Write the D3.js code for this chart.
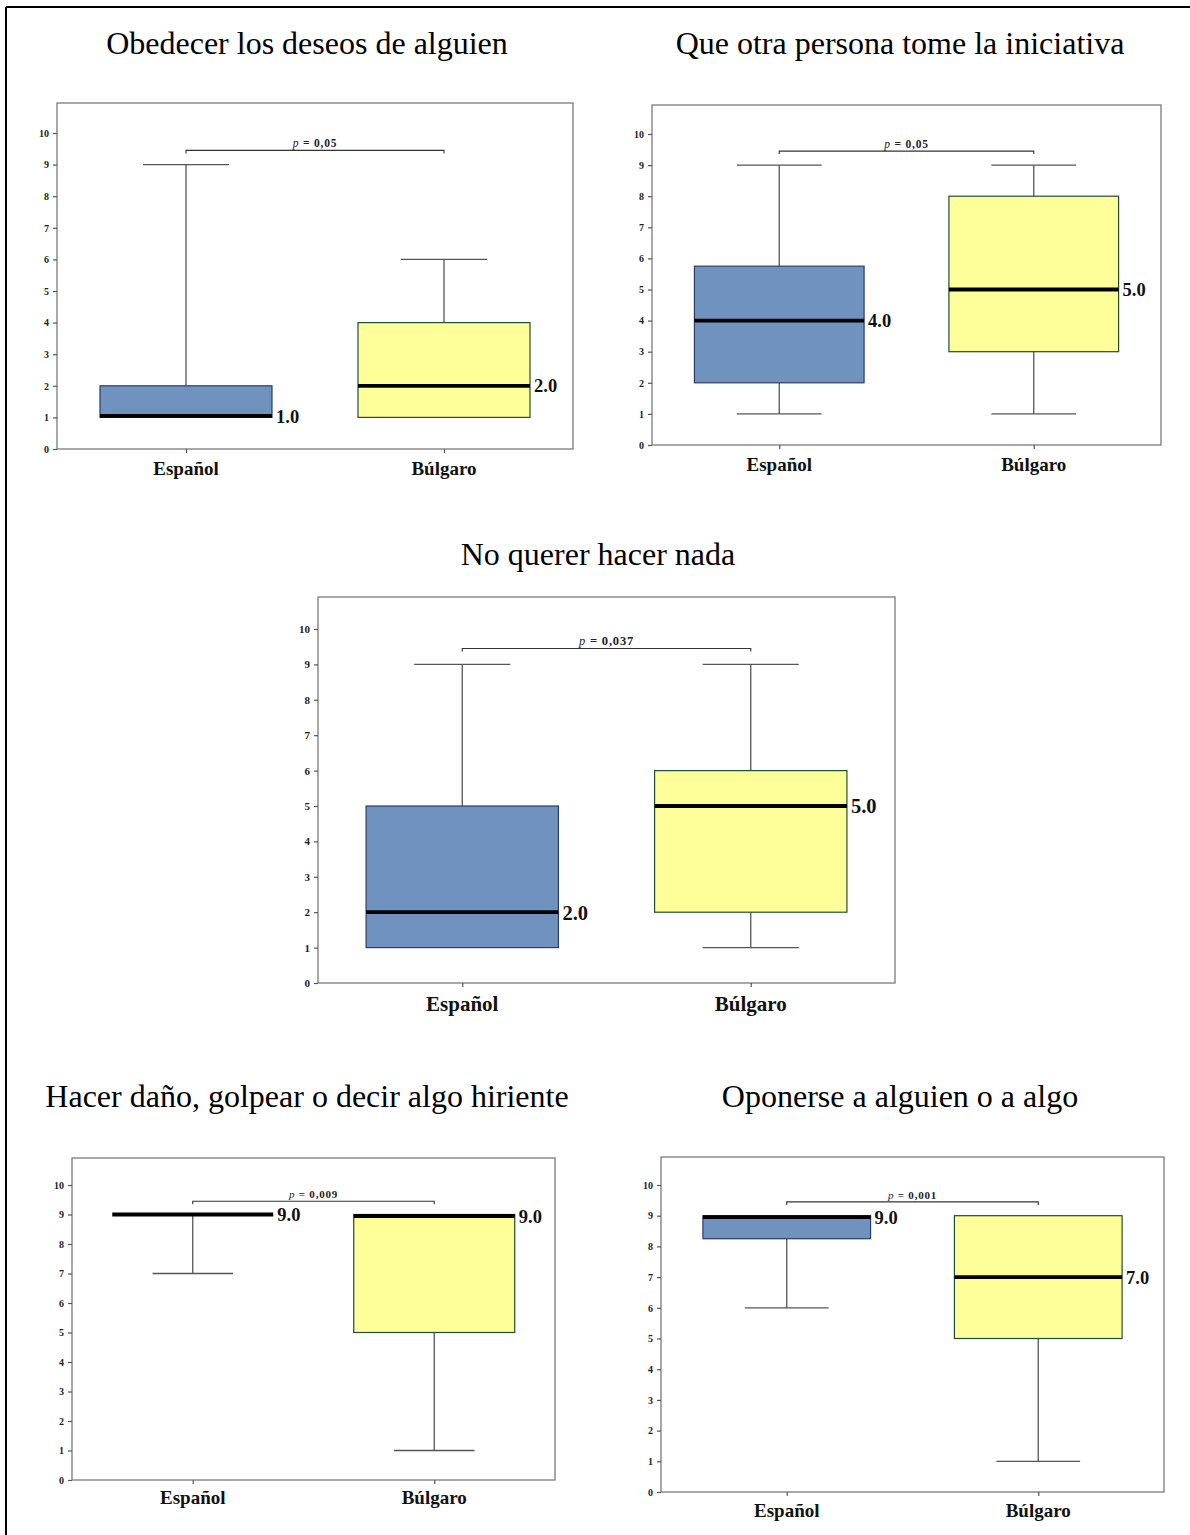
<!DOCTYPE html>
<html>
<head>
<meta charset="utf-8">
<script src="https://cdn.jsdelivr.net/npm/d3@7"></script>
<style>
  html, body { margin: 0; padding: 0; background: #fff; }
  svg { display: block; }
</style>
</head>
<body>
<svg id="chart" width="1190" height="1535"></svg>
<script>
// ---------- DATA ----------
const titles = [
  "Obedecer los deseos de alguien",
  "Que otra persona tome la iniciativa",
  "No querer hacer nada",
  "Hacer daño, golpear o decir algo hiriente",
  "Oponerse a alguien o a algo"
];
const categories = ["Español", "Búlgaro"];
const pValues = ["0,05", "0,05", "0,037", "0,009", "0,001"];
// [min, q1, median, q3, max]
const espanolStats = [
  [1, 1, 1, 2, 9],
  [1, 2, 4, 5.75, 9],
  [1, 1, 2, 5, 9],
  [7, 9, 9, 9, 9],
  [6, 8.25, 9, 9, 9]
];
const bulgaroStats = [
  [1, 1, 2, 4, 6],
  [1, 3, 5, 8, 9],
  [1, 2, 5, 6, 9],
  [1, 5, 9, 9, 9],
  [1, 5, 7, 9, 9]
];
const yTicks = [0, 1, 2, 3, 4, 5, 6, 7, 8, 9, 10];

// ---------- LAYOUT (pixels) ----------
const layout = [
  { left: 57,  right: 573,  top: 103,  zero: 449,  ten: 133,  titleX: 307, titleY: 54,   catY: 475,  catSize: 19, medSize: 18.5, tickSize: 10, pSize: 11.5 },
  { left: 652, right: 1161, top: 105,  zero: 445,  ten: 134,  titleX: 900, titleY: 54,   catY: 471,  catSize: 19, medSize: 18.5, tickSize: 10, pSize: 11.5 },
  { left: 318, right: 895,  top: 597,  zero: 983,  ten: 629,  titleX: 598, titleY: 565,  catY: 1011, catSize: 21, medSize: 20.5, tickSize: 11, pSize: 12.5 },
  { left: 72,  right: 555,  top: 1158, zero: 1480, ten: 1185, titleX: 307, titleY: 1107, catY: 1504, catSize: 19, medSize: 18.5, tickSize: 10, pSize: 11 },
  { left: 661, right: 1164, top: 1157, zero: 1492, ten: 1185, titleX: 900, titleY: 1107, catY: 1517, catSize: 19, medSize: 18.5, tickSize: 10, pSize: 11 }
];

const fills = ["#7092bf", "#ffff99"];
const strokes = ["#2a3d68", "#1f4d30"];
const serif = "'Liberation Serif', 'Times New Roman', serif";

const svg = d3.select("#chart");

// outer page border (top and left)
svg.append("line").attr("x1", 6).attr("x2", 1190).attr("y1", 7).attr("y2", 7)
  .attr("stroke", "#000").attr("stroke-width", 2);
svg.append("line").attr("x1", 6).attr("x2", 6).attr("y1", 7).attr("y2", 1535)
  .attr("stroke", "#000").attr("stroke-width", 2);

titles.forEach((title, i) => {
  const L = layout[i];
  const g = svg.append("g");
  const y = d3.scaleLinear().domain([0, 10]).range([L.zero, L.ten]);
  const x = d3.scalePoint().domain(categories).range([L.left, L.right]).padding(0.5);
  const boxW = (L.right - L.left) / 3;

  // title
  g.append("text").attr("x", L.titleX).attr("y", L.titleY)
    .attr("text-anchor", "middle").attr("font-family", serif)
    .attr("font-size", 32).attr("fill", "#000").text(title);

  // frame
  g.append("rect").attr("x", L.left).attr("y", L.top)
    .attr("width", L.right - L.left).attr("height", L.zero - L.top)
    .attr("fill", "none").attr("stroke", "#7a7a7a").attr("stroke-width", 1.3);

  // y axis
  const yAxis = d3.axisLeft(y).tickValues(yTicks).tickSize(4).tickPadding(4)
    .tickFormat(d3.format("d"));
  const ya = g.append("g").attr("transform", `translate(${L.left},0)`).call(yAxis);
  ya.select(".domain").remove();
  ya.selectAll("line").attr("stroke", "#555").attr("stroke-width", 1.2);
  ya.selectAll("text").attr("font-family", serif).attr("font-weight", "bold")
    .attr("font-size", L.tickSize).attr("fill", "#222");

  // x axis
  const xAxis = d3.axisBottom(x).tickSize(4).tickPadding(0).tickFormat("");
  const xa = g.append("g").attr("transform", `translate(0,${L.zero})`).call(xAxis);
  xa.select(".domain").remove();
  xa.selectAll("line").attr("stroke", "#555").attr("stroke-width", 1.2);
  categories.forEach(c => {
    g.append("text").attr("x", x(c)).attr("y", L.catY).attr("text-anchor", "middle")
      .attr("font-family", serif).attr("font-weight", "bold")
      .attr("font-size", L.catSize).attr("fill", "#111").text(c);
  });

  // boxes
  [espanolStats[i], bulgaroStats[i]].forEach((s, k) => {
    const cx = x(categories[k]);
    const [mn, q1, md, q3, mx] = s;
    const x0 = cx - boxW / 2, x1 = cx + boxW / 2;
    const capW = boxW / 2;
    const wl = g.append("g").attr("stroke", "#555").attr("stroke-width", 1.3);
    if (mx > q3) {
      wl.append("line").attr("x1", cx).attr("x2", cx).attr("y1", y(q3)).attr("y2", y(mx));
    }
    if (mx > q3 || q3 === q1) {
      wl.append("line").attr("x1", cx - capW / 2).attr("x2", cx + capW / 2)
        .attr("y1", y(mx)).attr("y2", y(mx));
    }
    if (mn < q1) {
      wl.append("line").attr("x1", cx).attr("x2", cx).attr("y1", y(q1)).attr("y2", y(mn));
      wl.append("line").attr("x1", cx - capW / 2).attr("x2", cx + capW / 2)
        .attr("y1", y(mn)).attr("y2", y(mn));
    }
    if (q3 > q1) {
      g.append("rect").attr("x", x0).attr("y", y(q3)).attr("width", boxW)
        .attr("height", y(q1) - y(q3)).attr("fill", fills[k])
        .attr("stroke", strokes[k]).attr("stroke-width", 1.2);
    }
    // median line
    let my = y(md);
    if (md === q1 && q3 > q1) my -= 1.5;
    if (md === q3 && q3 > q1) my += 1.5;
    g.append("line").attr("x1", x0).attr("x2", x1).attr("y1", my).attr("y2", my)
      .attr("stroke", "#000").attr("stroke-width", 3.8);
    g.append("text").attr("x", x1 + 4).attr("y", my).attr("dy", "0.36em")
      .attr("font-family", serif).attr("font-weight", "bold")
      .attr("font-size", L.medSize).attr("fill", "#111").text(md.toFixed(1));
  });

  // significance bracket
  const by = y(9.45);
  const bx0 = x(categories[0]), bx1 = x(categories[1]);
  g.append("path")
    .attr("d", `M${bx0},${by + 3}V${by}H${bx1}V${by + 3}`)
    .attr("fill", "none").attr("stroke", "#333").attr("stroke-width", 1.1);
  const pt = g.append("text").attr("x", (bx0 + bx1) / 2).attr("y", by - 3)
    .attr("text-anchor", "middle").attr("font-family", serif)
    .attr("font-size", L.pSize).attr("letter-spacing", 0.8).attr("fill", "#222");
  pt.append("tspan").attr("font-style", "italic").text("p");
  pt.append("tspan").attr("font-weight", "bold").text(" = " + pValues[i]);
});
</script>
</body>
</html>
